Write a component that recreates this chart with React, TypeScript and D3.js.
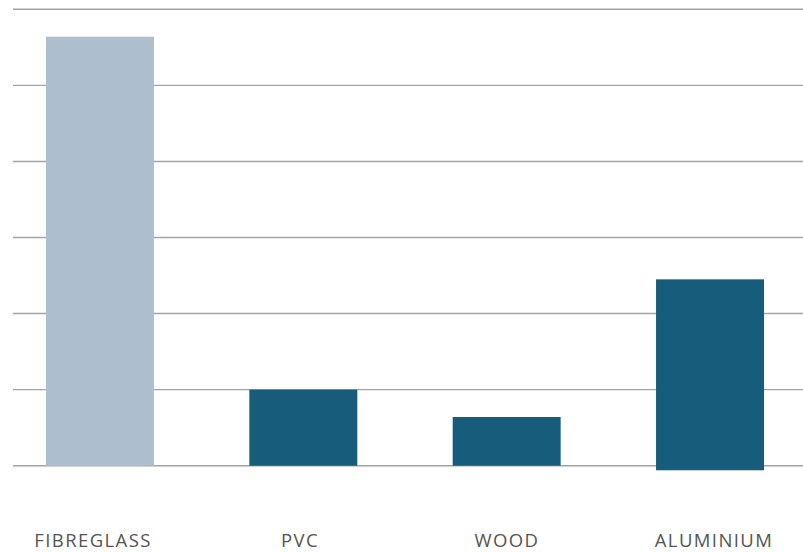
import React from "react";
import * as d3 from "d3";

// Frame material comparison
const categories = ["FIBREGLASS", "PVC", "WOOD", "ALUMINIUM"];
const values = [5.64, 1.0, 0.64, 2.45];
const bases = [0, 0, 0, -0.06];
const barColors = ["#adbfce", "#175c7a", "#175c7a", "#175c7a"];
const gridTicks = [0, 1, 2, 3, 4, 5, 6];

const W = 803;
const H = 552;

export default function App() {
  const y = d3.scaleLinear().domain([0, 6]).range([465.7, 9.3]);
  const x = d3
    .scaleBand<string>()
    .domain(categories)
    .range([-1.6, 811.6])
    .paddingInner(0.469)
    .paddingOuter(0.234);
  const xLabel = d3.scalePoint<string>().domain(categories).range([93, 714]);

  return (
    <svg
      width={W}
      height={H}
      style={{ position: "fixed", left: 0, top: 0, background: "#fff" }}
    >
      <g>
        {gridTicks.map((t) => (
          <line
            key={t}
            x1={13}
            x2={W}
            y1={y(t)}
            y2={y(t)}
            stroke="#a3a3a3"
            strokeWidth={1.4}
          />
        ))}
      </g>
      <g>
        {categories.map((c, i) => (
          <rect
            key={c}
            x={x(c)}
            width={x.bandwidth()}
            y={y(values[i])}
            height={y(bases[i]) - y(values[i])}
            fill={barColors[i]}
          />
        ))}
      </g>
      <g>
        {categories.map((c) => (
          <text
            key={c}
            x={xLabel(c)}
            y={546.5}
            textAnchor="middle"
            fontFamily="'Open Sans', sans-serif"
            fontSize={18.5}
            fill="#555"
            letterSpacing={1.4}
          >
            {c}
          </text>
        ))}
      </g>
    </svg>
  );
}
